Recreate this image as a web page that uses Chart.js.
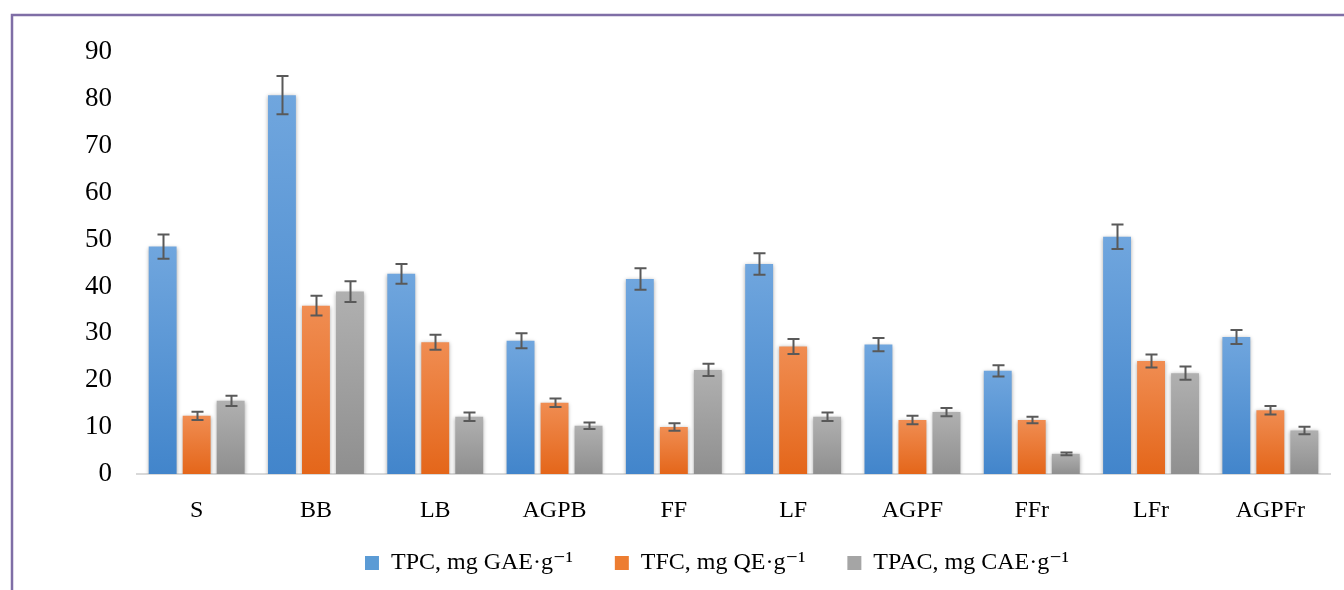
<!DOCTYPE html>
<html>
<head>
<meta charset="utf-8">
<script src="https://cdn.jsdelivr.net/npm/chart.js@4/dist/chart.umd.min.js"></script>
<style>
  html, body { margin: 0; padding: 0; background: #fff; }
  #wrap { width: 1344px; height: 590px; }
</style>
</head>
<body>
<div id="wrap"><canvas id="grafico" width="1344" height="590"></canvas></div>
<script>
// categorias e séries
const categorias = ['S', 'BB', 'LB', 'AGPB', 'FF', 'LF', 'AGPF', 'FFr', 'LFr', 'AGPFr'];
const nomesSeries = ['TPC, mg GAE\u00B7g\u207B\u00B9', 'TFC, mg QE\u00B7g\u207B\u00B9', 'TPAC, mg CAE\u00B7g\u207B\u00B9'];

const tpc    = [48.5, 80.8, 42.7, 28.4, 41.6, 44.8, 27.6, 22.0, 50.6, 29.2];
const tpcErr = [2.6, 4.1, 2.1, 1.6, 2.3, 2.3, 1.4, 1.2, 2.6, 1.5];
const tfc    = [12.4, 35.9, 28.1, 15.2, 10.0, 27.2, 11.5, 11.5, 24.1, 13.6];
const tfcErr = [0.9, 2.1, 1.6, 0.9, 0.8, 1.6, 0.9, 0.7, 1.4, 0.9];
const tpac    = [15.6, 38.9, 12.2, 10.3, 22.2, 12.2, 13.2, 4.3, 21.5, 9.3];
const tpacErr = [1.1, 2.2, 0.9, 0.7, 1.3, 0.9, 0.9, 0.3, 1.4, 0.8];

const yTicks = [0, 10, 20, 30, 40, 50, 60, 70, 80, 90];

// cores: [topo, base, legenda]
const cores = [
    ['#70a6de', '#4285cb', '#5b9bd5'],
    ['#f08d52', '#e4661a', '#ed7d31'],
    ['#b0b0b0', '#8f8f8f', '#a5a5a5']
];

const fonteSerif = "'Liberation Serif', 'DejaVu Serif', serif";

// gradiente por barra (claro em cima, escuro embaixo)
function gradiente(serie) {
    return function(context) {
        const chart = context.chart;
        const area = chart.chartArea;
        if (!area || context.raw === undefined) return cores[serie][2];
        const y = chart.scales.y.getPixelForValue(context.raw);
        const g = chart.ctx.createLinearGradient(0, y, 0, area.bottom);
        g.addColorStop(0, cores[serie][0]);
        g.addColorStop(1, cores[serie][1]);
        return g;
    };
}

// moldura roxa em volta
const moldura = {
    id: 'moldura',
    beforeDraw(chart) {
        const ctx = chart.ctx;
        ctx.save();
        ctx.strokeStyle = '#7f6ea6';
        ctx.lineWidth = 2.5;
        ctx.beginPath();
        ctx.moveTo(12, 590);
        ctx.lineTo(12, 15);
        ctx.lineTo(1344, 15);
        ctx.stroke();
        ctx.restore();
    }
};

// legenda um pouco mais à direita, como no original
const ajusteLegenda = {
    id: 'ajusteLegenda',
    afterLayout(chart) {
        chart.legend.left += 28;
        chart.legend.right += 28;
    }
};

// sombra leve nas barras
const sombra = {
    id: 'sombra',
    beforeDatasetsDraw(chart) {
        const ctx = chart.ctx;
        ctx.save();
        ctx.shadowColor = 'rgba(0,0,0,0.35)';
        ctx.shadowBlur = 4;
        ctx.shadowOffsetX = 0;
        ctx.shadowOffsetY = 1;
    },
    afterDatasetsDraw(chart) {
        chart.ctx.restore();
    }
};

// barras de erro
const erros = [tpcErr, tfcErr, tpacErr];
const barrasErro = {
    id: 'barrasErro',
    afterDatasetsDraw(chart) {
        const ctx = chart.ctx;
        const yScale = chart.scales.y;
        ctx.save();
        ctx.strokeStyle = '#595959';
        ctx.lineWidth = 2;
        chart.data.datasets.forEach((ds, i) => {
            const meta = chart.getDatasetMeta(i);
            meta.data.forEach((bar, j) => {
                const v = ds.data[j];
                const e = erros[i][j];
                const x = Math.round(bar.x) + 0.5;
                const yTop = yScale.getPixelForValue(v + e);
                const yBot = yScale.getPixelForValue(v - e);
                ctx.beginPath();
                ctx.moveTo(x, yTop);
                ctx.lineTo(x, yBot);
                ctx.moveTo(x - 6, yTop);
                ctx.lineTo(x + 6, yTop);
                ctx.moveTo(x - 6, yBot);
                ctx.lineTo(x + 6, yBot);
                ctx.stroke();
            });
        });
        ctx.restore();
    }
};

const dados = [tpc, tfc, tpac];

new Chart(document.getElementById('grafico').getContext('2d'), {
    type: 'bar',
    data: {
        labels: categorias,
        datasets: dados.map((d, i) => ({
            label: nomesSeries[i],
            data: d,
            backgroundColor: gradiente(i),
            borderWidth: 0,
            categoryPercentage: 0.855,
            barPercentage: 0.82
        }))
    },
    options: {
        responsive: false,
        animation: false,
        layout: { padding: { top: 52, left: 60, right: 14, bottom: 5 } },
        scales: {
            x: {
                grid: { display: false, drawTicks: false },
                border: { display: true, color: '#d9d9d9', width: 2 },
                ticks: { color: '#000', padding: 22, font: { family: fonteSerif, size: 24 } },
                afterFit(scale) { scale.height = 47; }
            },
            y: {
                min: 0,
                max: 90,
                afterBuildTicks(scale) { scale.ticks = yTicks.map(v => ({ value: v })); },
                grid: { display: false, drawTicks: false },
                border: { display: false },
                ticks: { color: '#000', padding: 25, font: { family: fonteSerif, size: 27 } },
                afterFit(scale) { scale.width = 77; }
            }
        },
        plugins: {
            legend: {
                position: 'bottom',
                labels: {
                    color: '#000',
                    boxWidth: 14,
                    boxHeight: 14,
                    padding: 30,
                    font: { family: fonteSerif, size: 24 },
                    generateLabels(chart) {
                        // espaço extra no fim para afastar os itens
                        return chart.data.datasets.map((ds, i) => ({
                            text: ds.label + '\u2002',
                            fillStyle: cores[i][2],
                            strokeStyle: 'rgba(0,0,0,0)',
                            lineWidth: 0,
                            datasetIndex: i
                        }));
                    }
                }
            },
            tooltip: { enabled: false }
        }
    },
    plugins: [moldura, ajusteLegenda, sombra, barrasErro]
});
</script>
</body>
</html>
